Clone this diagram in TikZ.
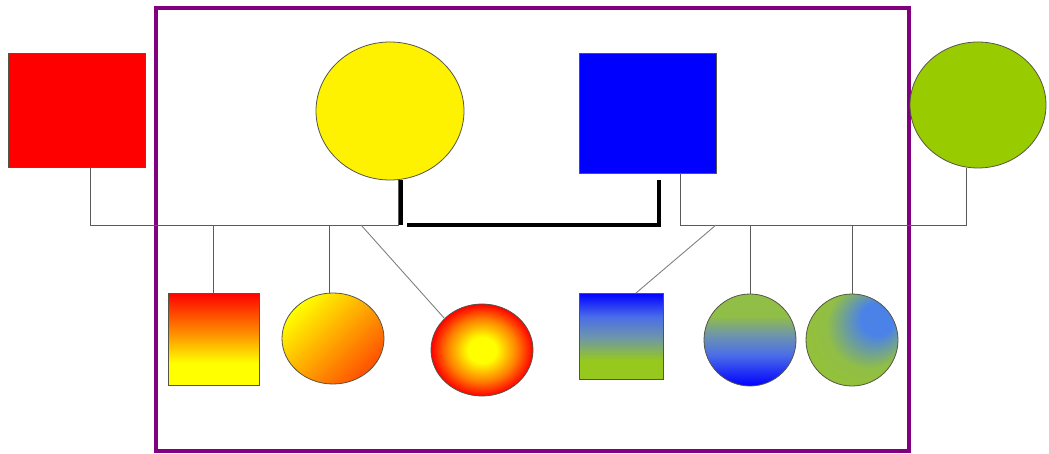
\documentclass[tikz,border=0pt]{standalone}
\usetikzlibrary{shapes.geometric}
\definecolor{leafgreen}{RGB}{153,204,0}
\definecolor{framepurple}{RGB}{128,0,128}
\definecolor{rimgray}{RGB}{85,85,70}
\definecolor{linegray}{RGB}{90,90,90}
\definecolor{sunorange}{RGB}{255,150,0}
\definecolor{grassgreen}{RGB}{150,200,30}
\definecolor{mossgreen}{RGB}{145,190,70}
\definecolor{dustblue}{RGB}{110,150,170}
\definecolor{paleblue}{RGB}{75,110,232}
\definecolor{skyblue}{RGB}{75,130,232}
% shadings for the children
\pgfdeclareverticalshading{redsun}{100bp}{color(0bp)=(yellow); color(37bp)=(yellow); color(52bp)=(sunorange); color(75bp)=(red); color(100bp)=(red)}
\pgfdeclareverticalshading{bluegrass}{100bp}{color(0bp)=(grassgreen); color(36bp)=(grassgreen); color(49bp)=(dustblue); color(61bp)=(paleblue); color(75bp)=(blue); color(100bp)=(blue)}
\pgfdeclareverticalshading{grassblue}{100bp}{color(0bp)=(blue); color(25bp)=(blue); color(42bp)=(paleblue); color(53bp)=(dustblue); color(63bp)=(mossgreen); color(75bp)=(mossgreen); color(100bp)=(mossgreen)}
\pgfdeclareradialshading{ember}{\pgfpoint{0bp}{0bp}}{color(0bp)=(yellow); color(7bp)=(yellow); color(17bp)=(orange); color(25bp)=(red); color(50bp)=(red)}
\pgfdeclareradialshading{skyspot}{\pgfpoint{17bp}{14bp}}{color(0bp)=(skyblue); color(9bp)=(skyblue); color(23bp)=(mossgreen); color(50bp)=(grassgreen)}
\begin{document}
\begin{tikzpicture}[x=1pt,y=-1pt,
    person/.style={draw=rimgray,line width=0.8pt,inner sep=0pt,outer sep=0pt},
    male/.style={person,rectangle},
    female/.style={person,ellipse},
    kin/.style={draw=linegray,line width=0.9pt},
    kinlight/.style={draw=gray,line width=0.9pt},
    marriage/.style={draw=black,line width=3.5pt}]
    \useasboundingbox (0,0) rectangle (1049,454);
    \draw[framepurple,line width=4pt] (156,8) rectangle (909,451);
    % parents
    \node[male,fill=red,minimum width=137pt,minimum height=114pt] (red) at (76.5,110) {};
    \node[female,fill=yellow,minimum width=148pt,minimum height=138pt] (yellow) at (390,111) {};
    \node[male,fill=blue,minimum width=137pt,minimum height=120pt] (blue) at (647.5,113) {};
    \node[female,fill=leafgreen,minimum width=136pt,minimum height=126pt] (green) at (978,105) {};
    % children
    \node[male,shading=redsun,minimum width=91pt,minimum height=92pt] (c1) at (213.5,339) {};
    \node[female,top color=yellow,middle color={rgb,255:red,255;green,200;blue,0},bottom color={rgb,255:red,255;green,80;blue,0},shading angle=45,minimum width=102pt,minimum height=91pt] (c2) at (333,338.5) {};
    \node[female,shading=ember,minimum width=102pt,minimum height=92pt] (c3) at (482,350) {};
    \node[male,shading=bluegrass,minimum width=84pt,minimum height=86pt] (c4) at (621,336) {};
    \node[female,shading=grassblue,minimum width=92pt,minimum height=92pt] (c5) at (750,340) {};
    \node[female,shading=skyspot,minimum width=92pt,minimum height=92pt] (c6) at (852,340) {};
    % junctions
    \coordinate (ljoin) at (398,225);
    \coordinate (rjoin) at (680,225);
    \coordinate (lsplit) at (361,225);
    \coordinate (rsplit) at (716,225);
    \coordinate (wed) at (407,225);
    \coordinate (ym) at ([xshift=11pt]yellow.south);
    \coordinate (bm) at ([xshift=11.5pt,yshift=-7pt]blue.south);
    % families
    \draw[kin] ([xshift=13.5pt]red.south) |- (ljoin) -- (ljoin |- yellow.south);
    \draw[kin] (blue.south -| rjoin) -- (rjoin) -| ([xshift=-12pt]green.south);
    \draw[marriage] (ym) -- (ym |- ljoin);
    \draw[marriage] (wed) -| (bm);
    \draw[kin] (c1.north) -- (c1.north |- ljoin);
    \draw[kin] ([xshift=-4pt]c2.north) -- ([xshift=-4pt]c2.north |- ljoin);
    \draw[kinlight] (lsplit) -- (c3.140);
    \draw[kinlight] (rsplit) -- ([xshift=15pt]c4.north);
    \draw[kin] (c5.north) -- (c5.north |- rjoin);
    \draw[kin] (c6.north) -- (c6.north |- rjoin);
\end{tikzpicture}
\end{document}
